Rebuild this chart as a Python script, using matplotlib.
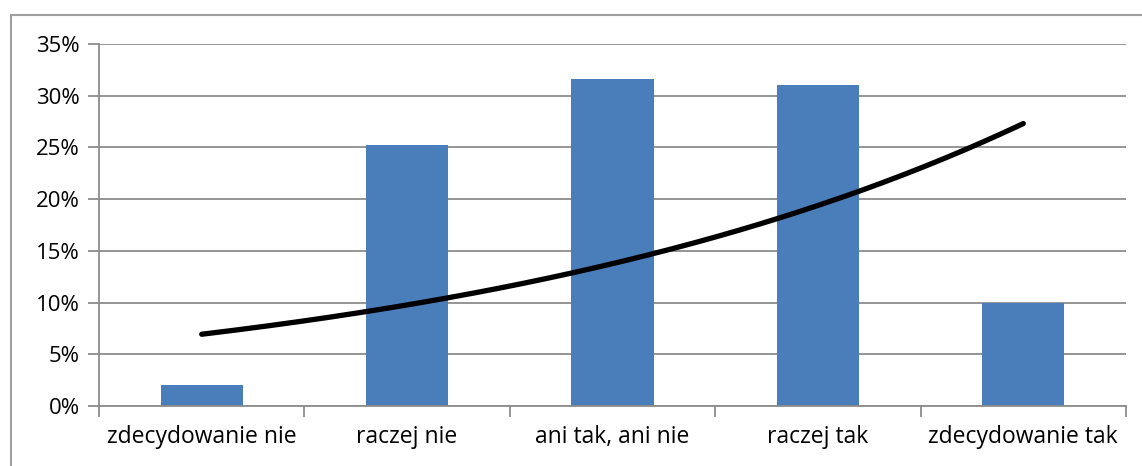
import matplotlib.pyplot as plt
import numpy as np
from matplotlib.patches import Rectangle
from matplotlib.ticker import FuncFormatter

kategorie = ['zdecydowanie nie', 'raczej nie', 'ani tak, ani nie', 'raczej tak', 'zdecydowanie tak']
odsetki = [0.02, 0.252, 0.316, 0.31, 0.10]

plt.rcParams['font.family'] = ['Open Sans', 'DejaVu Sans']

szary = '#8c8c8c'
niebieski = '#4a7ebb'

fig = plt.figure(figsize=(11.42, 4.66), dpi=100)
ax = fig.add_axes([0.0867, 0.1288, 0.8993, 0.7768])

x = np.arange(1, len(kategorie) + 1)
ax.bar(x, odsetki, width=0.4, color=niebieski, zorder=2)

# wykladnicza linia trendu (dopasowanie ln y = a + b x)
b, a = np.polyfit(x, np.log(odsetki), 1)
xs = np.linspace(1, 5, 200)
ax.plot(xs, np.exp(a + b * xs), color='black', lw=3.8, solid_capstyle='round', zorder=3)

ax.set_xlim(0.5, 5.5)
ax.set_ylim(0, 0.35)
ax.set_yticks(np.arange(0, 0.351, 0.05))
ax.yaxis.set_major_formatter(FuncFormatter(lambda v, p: f'{v * 100:.0f}%'))
ax.grid(axis='y', color=szary, lw=1.3, zorder=0)

ax.set_xticks(x)
ax.set_xticklabels(kategorie)
ax.set_xticks(np.arange(0.5, 5.6, 1), minor=True)
ax.tick_params(axis='x', which='major', length=0, pad=14, labelsize=16.5)
ax.tick_params(axis='x', which='minor', length=8, width=1.3, color=szary)
ax.tick_params(axis='y', length=8, width=1.3, color=szary, labelsize=16, pad=6)

for s in ['top', 'right']:
    ax.spines[s].set_visible(False)
for s in ['left', 'bottom']:
    ax.spines[s].set_color(szary)
    ax.spines[s].set_linewidth(1.3)

# ramka wykresu
fig.patches.append(Rectangle((11 / 1142, -0.1), 1.2, 1 - 15 / 466 + 0.1, transform=fig.transFigure,
                             fill=False, edgecolor='#a0a0a0', lw=1.5))

fig.savefig('out.png', dpi=100)
